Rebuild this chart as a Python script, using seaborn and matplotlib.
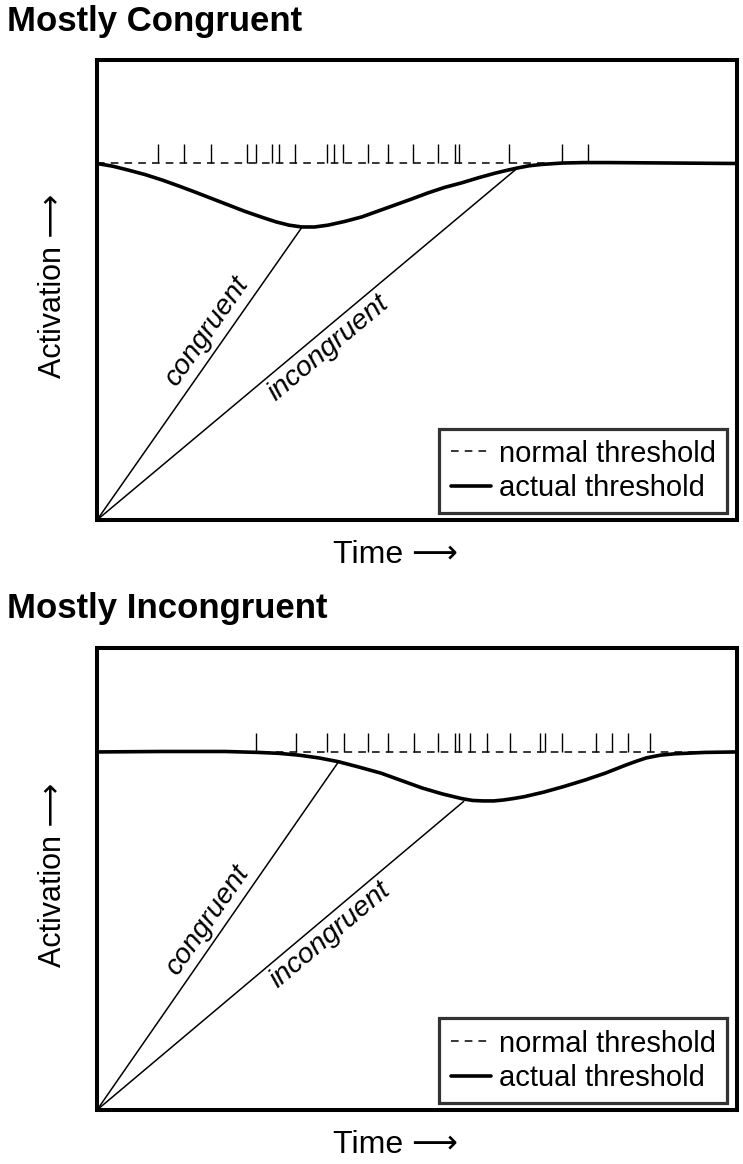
import numpy as np
import pandas as pd
import matplotlib
matplotlib.use("Agg")
import matplotlib.pyplot as plt
import seaborn as sns

# ---------------- data ----------------
threshold = 77.5
tick_top = 81.7

mc_ticks = [9.5, 13.6, 17.8, 23.4, 24.8, 27.3, 28.5, 30.9, 35.9, 37.1, 38.5,
            42.4, 45.4, 49.4, 53.3, 55.9, 56.6, 64.4, 72.7, 76.7]
mi_ticks = [24.8, 31.1, 36.0, 38.6, 42.3, 45.4, 49.5, 53.3, 55.9, 56.6, 58.3,
            60.9, 64.5, 69.2, 70.0, 72.6, 77.9, 80.4, 82.9, 86.4]

mc_curve_x = [0, 2.5, 4.8, 7.5, 10.2, 12.8, 15.3, 17.9, 20.5, 23.1, 25.8, 28.0,
              30.0, 32.0, 34.0, 36.1, 38.7, 41.4, 44.0, 46.6, 49.2, 51.7, 54.3,
              57.0, 59.6, 62.2, 64.0, 65.6, 67.5, 69.5, 72.7, 76, 80, 90, 100]
mc_curve_y = [77.5, 76.9, 76.1, 75.1, 73.9, 72.6, 71.3, 69.9, 68.5, 67.1, 65.8,
              64.8, 64.1, 63.7, 63.7, 64.1, 64.9, 65.9, 67.2, 68.5, 69.8, 71.1,
              72.3, 73.3, 74.4, 75.4, 76.0, 76.5, 77.0, 77.3, 77.6, 77.7, 77.7,
              77.6, 77.5]

mi_curve_x = [0, 10, 20, 25.2, 28.4, 31.6, 34.7, 37.7, 41.0, 44.4, 47.6, 50.8,
              54.0, 57.0, 58.7, 60.3, 62.0, 63.5, 65.0, 66.7, 69.8, 72.9, 76.2,
              79.4, 82.7, 84.3, 85.8, 88.0, 90.3, 95, 100]
mi_curve_y = [77.5, 77.6, 77.6, 77.4, 77.2, 76.8, 76.2, 75.4, 74.2, 72.9, 71.3,
              69.7, 68.4, 67.4, 67.0, 66.9, 66.9, 67.1, 67.4, 67.8, 68.8, 70.0,
              71.4, 72.9, 74.7, 75.5, 76.2, 76.8, 77.1, 77.4, 77.5]

mc_cong_end = (32.0, 63.6)
mc_incong_end = (65.6, 76.4)
mi_cong_end = (37.7, 75.3)
mi_incong_end = (57.3, 66.8)

titles = ["Mostly Congruent", "Mostly Incongruent"]
xlabel = "Time \u27f6"
ylabel = "Activation \u27f6"
legend_labels = ["normal threshold", "actual threshold"]
line_labels = ["congruent", "incongruent"]

mc_label_pos = [(17.2, 40.9), (36.1, 37.4)]
mi_label_pos = [(17.2, 41.1), (36.4, 37.9)]

# ---------------- style ----------------
sns.set_style("white")
plt.rcParams["font.family"] = ["Liberation Sans", "DejaVu Sans"]
plt.rcParams["text.color"] = "black"
plt.rcParams["axes.labelcolor"] = "black"

W, H = 743, 1164
fig = plt.figure(figsize=(W / 100, H / 100), dpi=100)

panels = [
    dict(title=titles[0], ticks=mc_ticks, cx=mc_curve_x, cy=mc_curve_y,
         cong=mc_cong_end, incong=mc_incong_end, lab=mc_label_pos,
         top=60, bottom=520, title_top=5),
    dict(title=titles[1], ticks=mi_ticks, cx=mi_curve_x, cy=mi_curve_y,
         cong=mi_cong_end, incong=mi_incong_end, lab=mi_label_pos,
         top=648, bottom=1110, title_top=592),
]

left_px, right_px = 97, 737

for p in panels:
    hpx = p["bottom"] - p["top"]
    ax = fig.add_axes([left_px / W, 1 - p["bottom"] / H,
                       (right_px - left_px) / W, hpx / H])
    ax.set_xlim(0, 100)
    ax.set_ylim(0, 100)

    # normal threshold (dashed)
    sns.lineplot(x=[0, 100], y=[threshold, threshold], ax=ax, color="black",
                 lw=1.1, linestyle=(0, (5, 4.0)), label=legend_labels[0],
                 zorder=2)
    # event ticks
    ax.vlines(p["ticks"], threshold, tick_top, color="black", lw=1.0, zorder=2)
    # actual threshold
    sns.lineplot(x=p["cx"], y=p["cy"], ax=ax, color="black", lw=2.6,
                 label=legend_labels[1], zorder=4, sort=False)
    # accumulation lines
    for end in (p["cong"], p["incong"]):
        sns.lineplot(x=[0, end[0]], y=[0, end[1]], ax=ax, color="black",
                     lw=1.1, zorder=3, legend=False)

    fig.canvas.draw()
    for (lx, ly), end, txt in zip(p["lab"], (p["cong"], p["incong"]), line_labels):
        p0 = ax.transData.transform((0, 0))
        p1 = ax.transData.transform(end)
        ang = np.degrees(np.arctan2(p1[1] - p0[1], p1[0] - p0[0]))
        ax.text(lx, ly, txt, rotation=ang, rotation_mode="anchor",
                ha="center", va="center", fontsize=20.5, style="italic")

    ax.set_xticks([])
    ax.set_yticks([])
    ax.set_xlabel("")
    ax.set_ylabel("")
    for s in ax.spines.values():
        s.set_visible(True)
        s.set_color("black")
        s.set_linewidth(2.9)

    ax.text((395 - left_px) / (right_px - left_px), -35 / hpx, xlabel,
            transform=ax.transAxes, ha="center", va="center", fontsize=23)
    ax.text(-0.068, 0.5 + 4 / hpx, ylabel, transform=ax.transAxes, rotation=90,
            ha="center", va="center", fontsize=22)

    leg = ax.legend(loc="lower right", bbox_to_anchor=(0.984, 0.015),
                    borderaxespad=0, fontsize=21, handlelength=1.4,
                    handletextpad=0.25, labelspacing=0.22, borderpad=0.38,
                    frameon=True, fancybox=False, edgecolor="black")
    leg.get_frame().set_linewidth(2.3)
    for t in leg.get_texts():
        t.set_color("black")

    fig.text(7 / W, 1 - p["title_top"] / H, p["title"], ha="left", va="top",
             fontsize=25, fontweight="bold")

fig.savefig("out.png", dpi=100)
